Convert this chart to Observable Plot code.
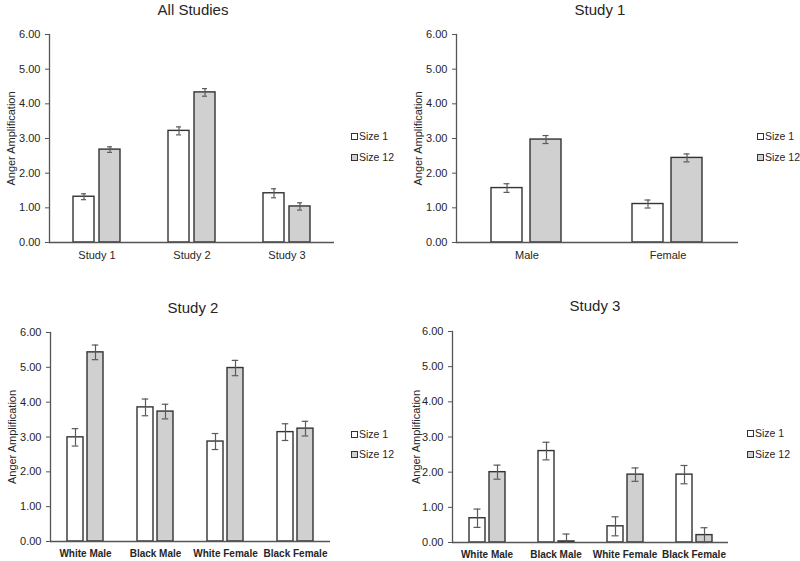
<!DOCTYPE html>
<html>
<head>
<meta charset="utf-8">
<script src="https://cdn.jsdelivr.net/npm/d3@7"></script>
<script src="https://cdn.jsdelivr.net/npm/@observablehq/plot@0.6"></script>
<style>
  body { margin: 0; background: #fff; }
  #root { position: relative; width: 800px; height: 561px; overflow: hidden; font-family: "Liberation Sans", Arial, sans-serif; color: #262626; }
  .panel { position: absolute; }
  .title { position: absolute; transform: translate(-50%, -50%); font-size: 15px; white-space: nowrap; color: #262626; }
  .leg { position: absolute; font-size: 10.5px; display: flex; align-items: center; white-space: nowrap; transform: translateY(-50%); color: #262626; }
  .sw { width: 5px; height: 5px; border: 1px solid #333; margin-right: 1px; }
</style>
</head>
<body>
<div id="root"></div>
<script>
// ---------- data ----------
const series = ["Size 1", "Size 12"];
const seriesColors = ["#ffffff", "#d0d0d0"];
const yTicks = [0, 1, 2, 3, 4, 5, 6];

// All Studies
const allCats = ["Study 1", "Study 2", "Study 3"];
const allSize1 = [1.32, 3.22, 1.42];
const allSize12 = [2.68, 4.33, 1.04];
const allErr1 = [0.085, 0.115, 0.13];
const allErr12 = [0.08, 0.11, 0.105];

// Study 1
const s1Cats = ["Male", "Female"];
const s1Size1 = [1.57, 1.11];
const s1Size12 = [2.97, 2.44];
const s1Err1 = [0.125, 0.115];
const s1Err12 = [0.115, 0.115];

// Study 2
const s2Cats = ["White Male", "Black Male", "White Female", "Black Female"];
const s2Size1 = [2.99, 3.85, 2.87, 3.14];
const s2Size12 = [5.43, 3.73, 4.98, 3.24];
const s2Err1 = [0.25, 0.24, 0.23, 0.24];
const s2Err12 = [0.21, 0.21, 0.22, 0.21];

// Study 3
const s3Cats = ["White Male", "Black Male", "White Female", "Black Female"];
const s3Size1 = [0.69, 2.60, 0.46, 1.93];
const s3Size12 = [2.00, 0.03, 1.93, 0.21];
const s3Err1 = [0.26, 0.25, 0.27, 0.26];
const s3Err12 = [0.20, 0.21, 0.19, 0.21];

function rows(cats, v1, v12, e1, e12) {
  const out = [];
  cats.forEach((c, i) => {
    out.push({cat: c, series: series[0], value: v1[i], err: e1[i]});
    out.push({cat: c, series: series[1], value: v12[i], err: e12[i]});
  });
  return out;
}

const root = document.getElementById("root");

function panel(cfg) {
  const data = rows(cfg.cats, cfg.v1, cfg.v12, cfg.e1, cfg.e12);
  const errStroke = "#5a5a5a";
  const chart = Plot.plot({
    width: 400,
    height: cfg.height,
    marginLeft: cfg.ml, marginRight: cfg.mr, marginTop: cfg.mt, marginBottom: cfg.mb,
    style: {fontFamily: "'Liberation Sans', Arial, sans-serif", fontSize: "11px", color: "#262626", background: "transparent"},
    fx: {domain: cfg.cats, paddingInner: 0, paddingOuter: 0, label: null},
    x: {domain: series, paddingInner: cfg.pi, paddingOuter: cfg.po, axis: null},
    y: {domain: [0, 6]},
    color: {domain: series, range: seriesColors},
    marks: [
      Plot.barY(data, {fx: "cat", x: "series", y: "value", fill: "series", stroke: "#333", strokeWidth: 1.4}),
      Plot.ruleX(data, {fx: "cat", x: "series", y1: d => Math.max(0, d.value - d.err), y2: d => d.value + d.err, stroke: errStroke, strokeWidth: 1.2}),
      Plot.tickY(data, {fx: "cat", x: "series", y: d => d.value + d.err, insetLeft: cfg.cap, insetRight: cfg.cap, stroke: errStroke, strokeWidth: 1.2}),
      Plot.tickY(data.filter(d => d.value - d.err >= 0), {fx: "cat", x: "series", y: d => d.value - d.err, insetLeft: cfg.cap, insetRight: cfg.cap, stroke: errStroke, strokeWidth: 1.2}),
      Plot.ruleY([0], {stroke: "#555", strokeWidth: 1.3}),
      Plot.frame({anchor: "left", facetAnchor: "left", stroke: "#555", strokeWidth: 1.3}),
      Plot.axisY({ticks: yTicks, tickFormat: d3.format(".2f"), tickSize: 4, tickPadding: 5, stroke: "#555",
                  label: "Anger Amplification", labelAnchor: "center", labelOffset: cfg.lo, labelArrow: false}),
      Plot.axisFx({anchor: "bottom", tickSize: 0, tickPadding: cfg.tp, label: null, fontSize: cfg.fxSize, fontWeight: cfg.fxWeight})
    ]
  });
  const div = document.createElement("div");
  div.className = "panel";
  div.style.left = cfg.left + "px";
  div.style.top = cfg.top + "px";
  div.appendChild(chart);
  root.appendChild(div);

  const t = document.createElement("div");
  t.className = "title";
  t.textContent = cfg.title;
  t.style.left = cfg.tx + "px";
  t.style.top = cfg.ty + "px";
  root.appendChild(t);

  series.forEach((s, i) => {
    const l = document.createElement("div");
    l.className = "leg";
    l.style.left = cfg.lx + "px";
    l.style.top = cfg.ly[i] + "px";
    const sw = document.createElement("div");
    sw.className = "sw";
    sw.style.background = seriesColors[i];
    l.appendChild(sw);
    const tx = document.createElement("span");
    tx.textContent = s;
    l.appendChild(tx);
    root.appendChild(l);
  });
}

panel({title: "All Studies", cats: allCats, v1: allSize1, v12: allSize12, e1: allErr1, e12: allErr12,
  left: 0, top: 0, height: 280, ml: 48, mr: 65, mt: 34, mb: 38, pi: 0.185, po: 0.865, cap: 8, lo: 42, tp: 9,
  fxSize: 11, fxWeight: "normal", tx: 193, ty: 9, lx: 351, ly: [136, 157]});

panel({title: "Study 1", cats: s1Cats, v1: s1Size1, v12: s1Size12, e1: s1Err1, e12: s1Err12,
  left: 400, top: 0, height: 280, ml: 55, mr: 62, mt: 34, mb: 38, pi: 0.2, po: 0.869, cap: 12.5, lo: 42, tp: 9,
  fxSize: 11, fxWeight: "normal", tx: 600, ty: 9, lx: 757, ly: [136, 157]});

panel({title: "Study 2", cats: s2Cats, v1: s2Size1, v12: s2Size12, e1: s2Err1, e12: s2Err12,
  left: 0, top: 280, height: 281, ml: 48, mr: 69, mt: 52, mb: 20, pi: 0.195, po: 0.823, cap: 4.75, lo: 42, tp: 8,
  fxSize: 10, fxWeight: "bold", tx: 193, ty: 307, lx: 351, ly: [434, 454]});

panel({title: "Study 3", cats: s3Cats, v1: s3Size1, v12: s3Size12, e1: s3Err1, e12: s3Err12,
  left: 400, top: 280, height: 281, ml: 52, mr: 72, mt: 51, mb: 19, pi: 0.2, po: 0.825, cap: 4.5, lo: 40, tp: 8,
  fxSize: 10, fxWeight: "bold", tx: 595, ty: 305, lx: 747, ly: [433, 454]});
</script>
</body>
</html>
